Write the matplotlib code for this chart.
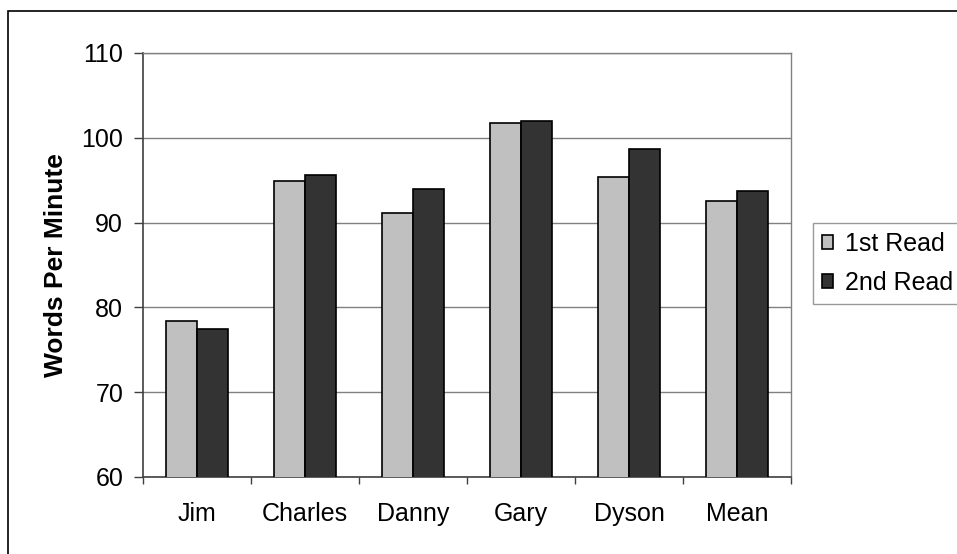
import matplotlib
matplotlib.use("Agg")
import matplotlib.pyplot as plt
import matplotlib.patches as mpatches
import numpy as np

plt.rcParams["font.family"] = ["Liberation Sans", "DejaVu Sans"]

readers = ["Jim", "Charles", "Danny", "Gary", "Dyson", "Mean"]
first_read = [78.4, 94.9, 91.1, 101.8, 95.4, 92.5]
second_read = [77.5, 95.6, 94.0, 102.0, 98.7, 93.7]
series_names = ["1st Read", "2nd Read"]
y_ticks = [60, 70, 80, 90, 100, 110]

fig = plt.figure(figsize=(9.57, 5.54), dpi=100)
fig.patch.set_facecolor("white")

# outer chart border (right/bottom edges fall outside the image)
fig.add_artist(mpatches.Rectangle((8 / 957, -0.1), 1.2, 1 - 11 / 554 + 0.1,
                                  transform=fig.transFigure, fill=False,
                                  edgecolor="black", linewidth=1.2))

ax = fig.add_axes([143 / 957, 1 - 477 / 554, (791 - 143) / 957, (477 - 53) / 554])

x = np.arange(len(readers))
w = 1 / 3.5
ax.bar(x - w / 2, first_read, w, color="#C0C0C0", edgecolor="black",
       linewidth=1.2, label=series_names[0], zorder=3)
ax.bar(x + w / 2, second_read, w, color="#333333", edgecolor="black",
       linewidth=1.2, label=series_names[1], zorder=3)

ax.set_xlim(-0.5, len(readers) - 0.5)
ax.set_ylim(60, 110)
ax.set_yticks(y_ticks)
ax.yaxis.grid(True, color="#808080", linewidth=1, zorder=0)

ax.set_xticks(x)
ax.set_xticklabels(readers, fontsize=18)
ax.set_xticks(np.arange(len(readers) + 1) - 0.5, minor=True)
ax.tick_params(axis="x", which="major", length=0, pad=18)
ax.tick_params(axis="x", which="minor", length=5, width=1, color="#404040")
ax.tick_params(axis="y", length=6.3, width=1, color="#404040", labelsize=18, pad=8)

for side in ("left", "bottom"):
    ax.spines[side].set_color("#404040")
    ax.spines[side].set_linewidth(1.2)
for side in ("top", "right"):
    ax.spines[side].set_color("#808080")
    ax.spines[side].set_linewidth(1)

ax.set_ylabel("Words Per Minute", fontsize=19, fontweight="bold")
ax.yaxis.set_label_coords(-0.116, 0.5)

leg = fig.legend(loc="upper left", bbox_to_anchor=(813 / 957, 1 - 223 / 554),
                 fontsize=18, frameon=True, fancybox=False, edgecolor="#808080",
                 handlelength=0.44, handleheight=0.44, handletextpad=0.48,
                 borderpad=0.36, labelspacing=0.6, borderaxespad=0)
leg.get_frame().set_linewidth(1)

fig.savefig("out.png", dpi=100, facecolor="white")
